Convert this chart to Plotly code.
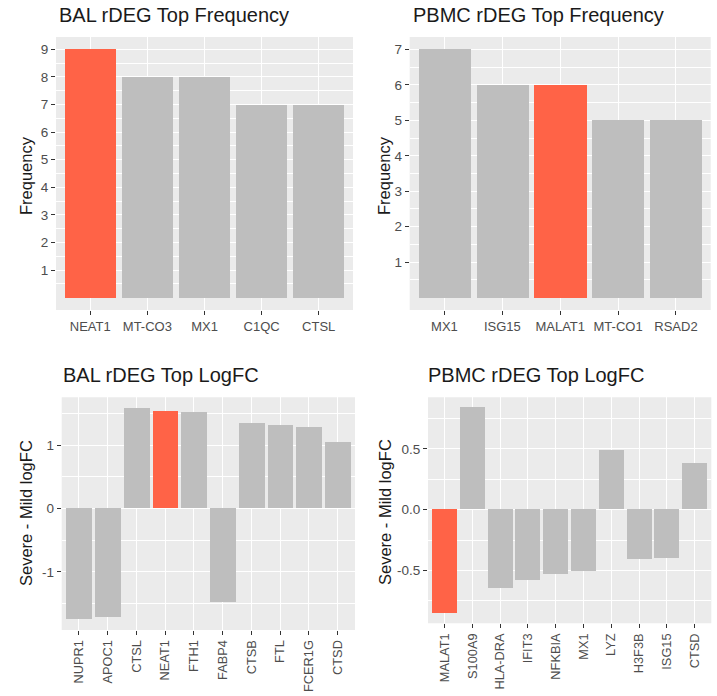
import plotly.graph_objects as go

W, H = 717, 696

bal_freq_genes = ["NEAT1", "MT-CO3", "MX1", "C1QC", "CTSL"]
bal_freq_vals = [9, 8, 8, 7, 7]
bal_freq_hl = "NEAT1"

pbmc_freq_genes = ["MX1", "ISG15", "MALAT1", "MT-CO1", "RSAD2"]
pbmc_freq_vals = [7, 6, 6, 5, 5]
pbmc_freq_hl = "MALAT1"

bal_fc_genes = ["NUPR1", "APOC1", "CTSL", "NEAT1", "FTH1", "FABP4", "CTSB", "FTL", "FCER1G", "CTSD"]
bal_fc_vals = [-1.75, -1.71, 1.59, 1.54, 1.52, -1.48, 1.35, 1.31, 1.29, 1.05]
bal_fc_hl = "NEAT1"

pbmc_fc_genes = ["MALAT1", "S100A9", "HLA-DRA", "IFIT3", "NFKBIA", "MX1", "LYZ", "H3F3B", "ISG15", "CTSD"]
pbmc_fc_vals = [-0.85, 0.84, -0.65, -0.58, -0.53, -0.51, 0.49, -0.41, -0.40, 0.38]
pbmc_fc_hl = "MALAT1"

titles = ["BAL rDEG Top Frequency", "PBMC rDEG Top Frequency", "BAL rDEG Top LogFC", "PBMC rDEG Top LogFC"]
ylabels = ["Frequency", "Frequency", "Severe - Mild logFC", "Severe - Mild logFC"]

RED = "#FF6347"
GREY = "#BEBEBE"
PANEL = "#EBEBEB"
FONT = "Liberation Sans, Arial, sans-serif"

# panel pixel boxes: x0, x1, y0(top), y1(bottom)
boxes = [
    (56, 353, 37, 310),
    (409.7, 710.7, 37, 310),
    (61.7, 355, 397.3, 630),
    (428, 711.3, 397.3, 623.3),
]
title_pos = [(57, 15), (411, 15), (61, 375), (426, 375)]
ylab_pos = [(26, 175), (384, 175), (26, 513), (385, 512)]

panels = [
    (bal_freq_genes, bal_freq_vals, bal_freq_hl, [1, 2, 3, 4, 5, 6, 7, 8, 9], [0.5 + i for i in range(9)], None, 0),
    (pbmc_freq_genes, pbmc_freq_vals, pbmc_freq_hl, [1, 2, 3, 4, 5, 6, 7], [0.5 + i for i in range(7)], None, 0),
    (bal_fc_genes, bal_fc_vals, bal_fc_hl, [-1, 0, 1], [-1.5, -0.5, 0.5, 1.5], ["-1", "0", "1"], -90),
    (pbmc_fc_genes, pbmc_fc_vals, pbmc_fc_hl, [-0.5, 0, 0.5], [-0.75, -0.25, 0.25, 0.75], ["-0.5", "0.0", "0.5"], -90),
]

fig = go.Figure()
annotations = []
layout = {}

for i, (genes, vals, hl, ytv, yminor, yttext, xangle) in enumerate(panels):
    n = i + 1
    xa = "x" if n == 1 else f"x{n}"
    ya = "y" if n == 1 else f"y{n}"
    colors = [RED if g == hl else GREY for g in genes]
    fig.add_trace(go.Bar(x=genes, y=vals, marker=dict(color=colors, line=dict(width=0)),
                         width=0.9, xaxis=xa, yaxis=ya, showlegend=False))
    lo = min(0, min(vals))
    hi = max(0, max(vals))
    pad = 0.05 * (hi - lo)
    x0, x1, y0, y1 = boxes[i]
    xkey = "xaxis" if n == 1 else f"xaxis{n}"
    ykey = "yaxis" if n == 1 else f"yaxis{n}"
    xfs = 13 if i < 2 else 12.8
    yfs = 13.5
    layout[xkey] = dict(
        domain=[x0 / W, x1 / W], anchor=ya, type="category", categoryorder="array",
        categoryarray=genes, range=[-0.6, len(genes) - 0.4],
        showgrid=True, gridcolor="white", gridwidth=1.1,
        ticks="outside", ticklen=4, tickwidth=1, tickcolor="#333333",
        tickangle=xangle, tickfont=dict(family=FONT, size=xfs, color="#4D4D4D"),
        showline=False, zeroline=False, fixedrange=True,
    )
    layout[ykey] = dict(
        domain=[1 - y1 / H, 1 - y0 / H], anchor=xa, range=[lo - pad, hi + pad],
        tickmode="array", tickvals=ytv, ticktext=yttext if yttext else [str(v) for v in ytv],
        showgrid=True, gridcolor="white", gridwidth=1.1,
        minor=dict(tickmode="array", tickvals=yminor, showgrid=True, gridcolor="white", gridwidth=0.55, ticks=""),
        ticks="outside", ticklen=4, tickwidth=1, tickcolor="#333333",
        tickfont=dict(family=FONT, size=yfs, color="#4D4D4D"),
        showline=False, zeroline=False, fixedrange=True,
    )
    # panel background
    fig.add_shape(type="rect", xref="paper", yref="paper", x0=x0 / W, x1=x1 / W,
                  y0=1 - y1 / H, y1=1 - y0 / H, fillcolor=PANEL, line=dict(width=0), layer="below")
    tx, ty = title_pos[i]
    annotations.append(dict(text=titles[i], x=tx / W, y=1 - ty / H, xref="paper", yref="paper",
                            xanchor="left", yanchor="middle", showarrow=False,
                            font=dict(family=FONT, size=20, color="#1A1A1A")))
    lx, ly = ylab_pos[i]
    annotations.append(dict(text=ylabels[i], x=lx / W, y=1 - ly / H, xref="paper", yref="paper",
                            xanchor="center", yanchor="middle", showarrow=False, textangle=-90,
                            font=dict(family=FONT, size=16.5, color="#1A1A1A")))

fig.update_layout(
    width=W, height=H, margin=dict(l=0, r=0, t=0, b=0),
    paper_bgcolor="white", plot_bgcolor="rgba(0,0,0,0)",
    annotations=annotations, bargap=0, **layout,
)

fig.write_html("out.html", include_plotlyjs=True, config={"displayModeBar": False})
